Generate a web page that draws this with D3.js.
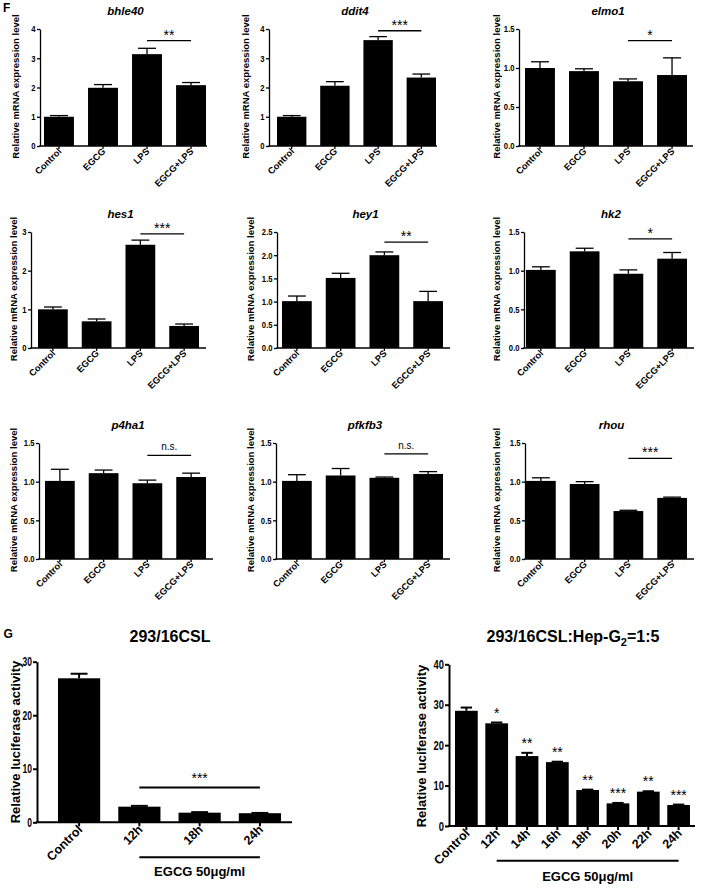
<!DOCTYPE html>
<html>
<head>
<meta charset="utf-8">
<script src="https://cdn.jsdelivr.net/npm/d3@7"></script>
<style>
  body { margin: 0; background: #fff; }
  svg text { font-family: Arial, "Liberation Sans", sans-serif; fill: #000; }
</style>
</head>
<body>
<svg id="fig" width="708" height="891"></svg>
<script>
// ---- data: panel F (qPCR) ----
var groups = ["Control", "EGCG", "LPS", "EGCG+LPS"];
var genes = ["bhle40", "ddit4", "elmo1", "hes1", "hey1", "hk2", "p4ha1", "pfkfb3", "rhou"];
var geneMeans = [
  [1.00, 1.99, 3.14, 2.08],
  [1.00, 2.06, 3.62, 2.34],
  [1.00, 0.96, 0.83, 0.91],
  [1.00, 0.69, 2.67, 0.57],
  [1.01, 1.51, 2.00, 1.01],
  [1.01, 1.25, 0.96, 1.155],
  [1.01, 1.11, 0.98, 1.06],
  [1.01, 1.08, 1.05, 1.10],
  [1.01, 0.97, 0.62, 0.79]
];
var geneErrors = [
  [0.04, 0.11, 0.20, 0.09],
  [0.04, 0.14, 0.12, 0.12],
  [0.08, 0.03, 0.03, 0.22],
  [0.06, 0.06, 0.12, 0.05],
  [0.11, 0.10, 0.07, 0.21],
  [0.04, 0.04, 0.05, 0.08],
  [0.15, 0.04, 0.04, 0.05],
  [0.08, 0.09, 0.01, 0.03],
  [0.04, 0.03, 0.01, 0.01]
];
var geneYMax = [4, 4, 1.5, 3, 2.5, 1.5, 1.5, 1.5, 1.5];
var geneTickStep = [1, 1, 0.5, 1, 0.5, 0.5, 0.5, 0.5, 0.5];
var geneTickFormat = ["d", "d", ".1f", "d", ".1f", ".1f", ".1f", ".1f", ".1f"];
var geneSig = ["**", "***", "*", "***", "**", "*", "n.s.", "n.s.", "***"];
var geneSigLevel = [3.6, 3.94, 1.35, 2.95, 2.28, 1.41, 1.34, 1.36, 1.30];

// ---- data: panel G (luciferase) ----
var g1Cats = ["Control", "12h", "18h", "24h"];
var g1Means = [26.9, 2.92, 1.8, 1.7];
var g1Errors = [0.85, 0.15, 0.1, 0.05];
var g1Ticks = [0, 10, 20, 30];

var g2Cats = ["Control", "12h", "14h", "16h", "18h", "20h", "22h", "24h"];
var g2Means = [28.5, 25.4, 17.3, 15.8, 8.9, 5.6, 8.5, 5.2];
var g2Errors = [0.8, 0.2, 0.8, 0.1, 0.1, 0.1, 0.1, 0.1];
var g2Sig = ["", "*", "**", "**", "**", "***", "**", "***"];
var g2Ticks = [0, 10, 20, 30, 40];

// ---- layout (pixels) ----
var rowLayout = [
  {axisX: 40,  axisEnd: 207, top: 29,  bottom: 146, b0: 44,  b1: 206, labelX: 16},
  {axisX: 269, axisEnd: 437, top: 29,  bottom: 146, b0: 277, b1: 436, labelX: 246},
  {axisX: 519, axisEnd: 693, top: 29,  bottom: 146, b0: 525, b1: 687, labelX: 497},
  {axisX: 31,  axisEnd: 206, top: 232, bottom: 348, b0: 38,  b1: 199, labelX: 14},
  {axisX: 277, axisEnd: 450, top: 232, bottom: 348, b0: 282, b1: 443, labelX: 251},
  {axisX: 524, axisEnd: 694, top: 232, bottom: 348, b0: 526, b1: 687, labelX: 497},
  {axisX: 39,  axisEnd: 213, top: 443, bottom: 559, b0: 45,  b1: 206, labelX: 14},
  {axisX: 276, axisEnd: 450, top: 443, bottom: 559, b0: 282, b1: 443, labelX: 251},
  {axisX: 525, axisEnd: 694, top: 443, bottom: 559, b0: 526, b1: 687, labelX: 497}
];

var svg = d3.select("#fig");

function drawBars(p) {
  var g = svg.append("g");
  var x = d3.scaleBand().domain(p.cats).range([p.b0, p.b1]).paddingInner(p.pi).paddingOuter(0);
  var y = d3.scaleLinear().domain([0, p.yMax]).range([p.bottom, p.top]);
  var bw = x.bandwidth();
  var rows = p.cats.map(function(c, i) { return {cat: c, v: p.means[i], e: p.errs[i]}; });

  g.selectAll(".bar").data(rows).enter().append("rect")
    .attr("class", "bar")
    .attr("x", function(d) { return x(d.cat); })
    .attr("width", bw)
    .attr("y", function(d) { return y(d.v); })
    .attr("height", function(d) { return y(0) - y(d.v); })
    .attr("fill", "#000");

  // upper error bars only
  g.selectAll(".err").data(rows).enter().append("line")
    .attr("x1", function(d) { return x(d.cat) + bw / 2; })
    .attr("x2", function(d) { return x(d.cat) + bw / 2; })
    .attr("y1", function(d) { return y(d.v); })
    .attr("y2", function(d) { return y(d.v + d.e); })
    .attr("stroke", "#000").attr("stroke-width", p.sw);
  g.selectAll(".cap").data(rows).enter().append("line")
    .attr("x1", function(d) { return x(d.cat) + bw / 2 - bw * p.cap / 2; })
    .attr("x2", function(d) { return x(d.cat) + bw / 2 + bw * p.cap / 2; })
    .attr("y1", function(d) { return y(d.v + d.e); })
    .attr("y2", function(d) { return y(d.v + d.e); })
    .attr("stroke", "#000").attr("stroke-width", p.sw);

  var ya = g.append("g").attr("transform", "translate(" + p.axisX + ",0)")
    .call(d3.axisLeft(y).tickValues(p.ticks).tickFormat(d3.format(p.fmt))
      .tickSizeInner(p.tickLen).tickSizeOuter(0).tickPadding(p.tickPad));
  ya.select(".domain").attr("stroke-width", p.sw);
  ya.selectAll(".tick line").attr("stroke-width", p.sw);
  ya.selectAll("text").attr("font-size", p.yFont).attr("font-weight", "bold")
    .attr("font-family", "Arial, 'Liberation Sans', sans-serif")
    .each(function() {
      // tick numbers in the original are a narrow face
      var w = this.getComputedTextLength();
      d3.select(this).attr("textLength", w * p.narrow).attr("lengthAdjust", "spacingAndGlyphs");
    });

  var xa = g.append("g").attr("transform", "translate(0," + p.bottom + ")")
    .call(d3.axisBottom(x).tickSizeInner(p.tickLen).tickSizeOuter(0).tickFormat(""));
  xa.select(".domain").remove();
  xa.selectAll(".tick line").attr("stroke-width", p.sw);
  xa.append("line").attr("x1", p.axisX - p.sw / 2).attr("x2", p.axisEnd)
    .attr("stroke", "#000").attr("stroke-width", p.sw);

  g.selectAll(".xlab").data(p.cats).enter().append("text")
    .attr("transform", function(d) {
      return "translate(" + (x(d) + bw / 2 + p.labDx) + "," + (p.bottom + p.labDy) + ") rotate(-45)";
    })
    .attr("text-anchor", "end")
    .attr("font-size", p.xFont).attr("font-weight", "bold")
    .text(function(d) { return d; });

  g.append("text")
    .attr("transform", "translate(" + p.labelX + "," + p.labelY + ") rotate(-90)")
    .attr("text-anchor", "middle")
    .attr("font-size", p.labelFont).attr("font-weight", "bold")
    .text(p.label);

  return {x: x, y: y, g: g, bw: bw};
}

// ---- panel F ----
genes.forEach(function(gene, i) {
  var L = rowLayout[i];
  var ticks = d3.range(0, geneYMax[i] + 1e-9, geneTickStep[i]);
  var r = drawBars({
    cats: groups, means: geneMeans[i], errs: geneErrors[i],
    yMax: geneYMax[i], ticks: ticks, fmt: geneTickFormat[i],
    axisX: L.axisX, axisEnd: L.axisEnd, top: L.top, bottom: L.bottom,
    b0: L.b0, b1: L.b1, pi: 0.32, sw: 1.3, cap: 0.6, tickLen: 3, tickPad: 1.5,
    yFont: 9, narrow: 0.85, xFont: 9.2, labDx: 3, labDy: 6,
    labelX: L.labelX + 3.4, labelY: (L.top + L.bottom) / 2 - 1, labelFont: 9.5,
    label: "Relative mRNA expression level"
  });

  svg.append("text")
    .attr("x", (L.axisX + L.axisEnd) / 2 + 2).attr("y", L.top - 14.5)
    .attr("text-anchor", "middle").attr("font-size", 11.5)
    .attr("font-weight", "bold").attr("font-style", "italic")
    .text(gene);

  var xa = r.x(groups[2]) + r.bw / 2, xb = r.x(groups[3]) + r.bw / 2;
  var ys = r.y(geneSigLevel[i]);
  r.g.append("line").attr("x1", xa).attr("x2", xb).attr("y1", ys).attr("y2", ys)
    .attr("stroke", "#000").attr("stroke-width", 1.3);
  var ns = geneSig[i] === "n.s.";
  r.g.append("text").attr("x", (xa + xb) / 2).attr("y", ys - (ns ? 5 : 1))
    .attr("text-anchor", "middle").attr("font-size", ns ? 10 : 14)
    .text(geneSig[i]);
});

svg.append("text").attr("x", 3).attr("y", 12).attr("font-size", 12)
  .attr("font-weight", "bold").text("F");
svg.append("text").attr("x", 3.5).attr("y", 638).attr("font-size", 12)
  .attr("font-weight", "bold").text("G");

// ---- panel G, left ----
var gl = drawBars({
  cats: g1Cats, means: g1Means, errs: g1Errors, yMax: 30, ticks: g1Ticks, fmt: "d",
  axisX: 37, axisEnd: 292, top: 661.7, bottom: 822.3, b0: 58, b1: 281, pi: 0.3,
  sw: 2, cap: 0.4, tickLen: 4, tickPad: 1, yFont: 12.5, narrow: 0.68,
  xFont: 12.5, labDx: 4, labDy: 8,
  labelX: 20, labelY: 742, labelFont: 13, label: "Relative luciferase activity"
});
svg.append("text").attr("x", 170).attr("y", 642).attr("text-anchor", "middle")
  .attr("font-size", 16).attr("font-weight", "bold").text("293/16CSL");
(function() {
  var xa = gl.x("12h") + gl.bw / 2, xb = gl.x("24h") + gl.bw / 2;
  var ys = gl.y(6.5);
  gl.g.append("line").attr("x1", xa).attr("x2", xb).attr("y1", ys).attr("y2", ys)
    .attr("stroke", "#000").attr("stroke-width", 1.8);
  gl.g.append("text").attr("x", (xa + xb) / 2).attr("y", ys - 4.7)
    .attr("text-anchor", "middle").attr("font-size", 14).text("***");
  gl.g.append("line").attr("x1", xa).attr("x2", xb).attr("y1", 857.3).attr("y2", 857.3)
    .attr("stroke", "#000").attr("stroke-width", 2);
  gl.g.append("text").attr("x", (xa + xb) / 2).attr("y", 876)
    .attr("text-anchor", "middle").attr("font-size", 13).attr("font-weight", "bold")
    .text("EGCG 50μg/ml");
})();

// ---- panel G, right ----
var gr = drawBars({
  cats: g2Cats, means: g2Means, errs: g2Errors, yMax: 40, ticks: g2Ticks, fmt: "d",
  axisX: 449, axisEnd: 695, top: 664.3, bottom: 826, b0: 455, b1: 690, pi: 0.25,
  sw: 2, cap: 0.5, tickLen: 4, tickPad: 1, yFont: 12.5, narrow: 0.75,
  xFont: 12.5, labDx: 4, labDy: 8,
  labelX: 426, labelY: 746, labelFont: 13, label: "Relative luciferase activity"
});
var t2 = svg.append("text").attr("x", 573).attr("y", 642).attr("text-anchor", "middle")
  .attr("font-size", 16).attr("font-weight", "bold");
t2.append("tspan").text("293/16CSL:Hep-G");
t2.append("tspan").attr("font-size", 11).attr("dy", 4).text("2");
t2.append("tspan").attr("dy", -4).text("=1:5");

gr.g.selectAll(".star").data(g2Cats).enter().append("text")
  .attr("x", function(d) { return gr.x(d) + gr.bw / 2; })
  .attr("y", function(d, i) { return gr.y(g2Means[i] + g2Errors[i]) - 5; })
  .attr("text-anchor", "middle").attr("font-size", 14)
  .text(function(d, i) { return g2Sig[i]; });
(function() {
  var xa = gr.x("12h") + gr.bw / 2, xb = gr.x("24h") + gr.bw / 2;
  gr.g.append("line").attr("x1", xa).attr("x2", xb).attr("y1", 860.7).attr("y2", 860.7)
    .attr("stroke", "#000").attr("stroke-width", 2);
  gr.g.append("text").attr("x", (xa + xb) / 2).attr("y", 881)
    .attr("text-anchor", "middle").attr("font-size", 13).attr("font-weight", "bold")
    .text("EGCG 50μg/ml");
})();
</script>
</body>
</html>
